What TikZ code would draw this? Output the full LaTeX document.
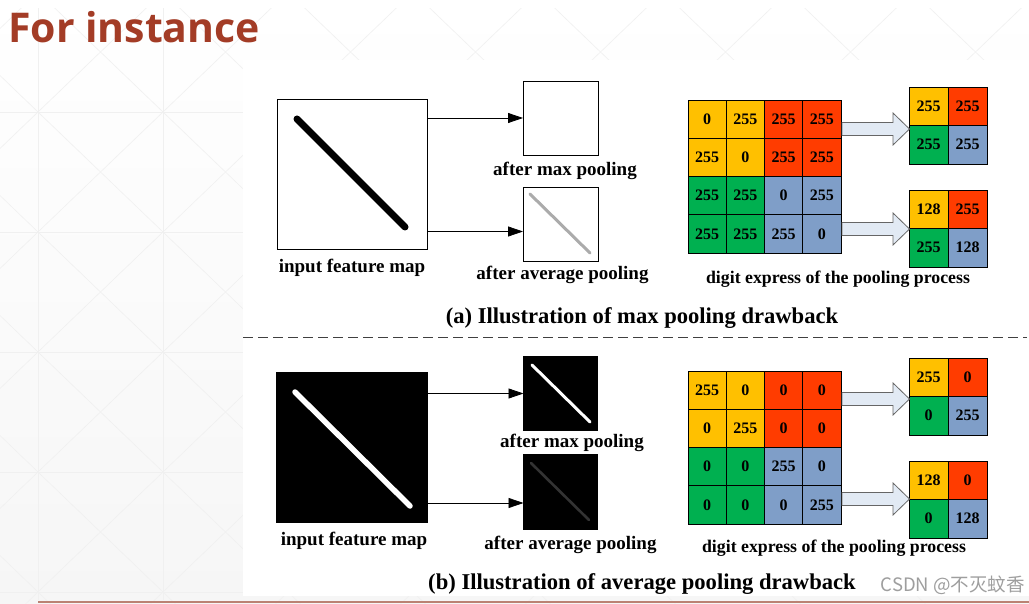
\documentclass[tikz,border=0pt]{standalone}
\usepackage{fontspec}
\setmainfont{Liberation Serif}
\newfontfamily\titlefont{Open Sans}
\newfontfamily\cjkfont{Noto Sans CJK SC}
\usetikzlibrary{arrows.meta,calc}
\definecolor{titlered}{RGB}{163,60,38}
\definecolor{cy}{RGB}{255,192,0}
\definecolor{cr}{RGB}{255,60,0}
\definecolor{cg}{RGB}{0,176,80}
\definecolor{cb}{RGB}{127,158,200}
\definecolor{arrfill}{RGB}{226,234,244}
\definecolor{bgline}{RGB}{240,240,240}
\definecolor{bgbottom}{RGB}{246,246,246}
\definecolor{footline}{RGB}{187,130,115}
\tikzset{
  fmap/.style={draw=black, line width=0.9pt, inner sep=0pt, outer sep=0pt},
  lbl/.style={font=\fontsize{19}{21}\selectfont\bfseries, inner sep=0pt},
  dlbl/.style={font=\fontsize{17.8}{20}\selectfont\bfseries, inner sep=0pt},
  captext/.style={font=\fontsize{22.6}{25}\selectfont\bfseries, inner sep=0pt},
  cellbox/.style={draw=black, line width=0.7pt, minimum width=38.25pt, minimum height=38.25pt, inner sep=0pt, outer sep=0pt, font=\fontsize{16}{16}\selectfont\bfseries},
  ocell/.style={draw=black, line width=0.7pt, minimum width=39pt, minimum height=38.5pt, inner sep=0pt, outer sep=0pt, font=\fontsize{16}{16}\selectfont\bfseries},
  arr/.style={-{Triangle[length=15pt,width=10pt]}, line width=0.8pt},
  blk/.style={draw=gray!80!black, line width=0.8pt, fill=arrfill},
}
\begin{document}
\begin{tikzpicture}[x=1pt,y=-1pt]
\useasboundingbox (0,0) rectangle (1029,604);
\shade[top color=white, bottom color=bgbottom] (0,0) rectangle (1029,604);
% faint background pattern
\begin{scope}[draw=bgline, line width=0.6pt]
  \foreach \xx in {38,163} \draw (\xx,0) -- (\xx,600);
  \foreach \yy in {112,232,352,472,592} \draw (0,\yy) -- (243,\yy);
  \foreach \k in {-4,...,8} {
    \draw (-87+125*\k,-8) -- ++(700,672);
    \draw (163+125*\k,-8) -- ++(-700,672);
  }
\end{scope}
\fill[white] (243,60) rectangle (1029,596);
\fill[white] (0,0) rectangle (1029,8);
% title
\node[anchor=west, inner sep=0pt, text=titlered, font=\titlefont\fontsize{41}{42}\selectfont\bfseries] (title) at (8,27) {For instance};

% ===== (a) =====
\node[fmap, minimum width=150pt, minimum height=150pt] (inA) at (352,174) {};
\draw[line width=7pt, line cap=round] (297,119) -- (405,227);
\node[lbl] (inAl) at (352,268) {input feature map};
\node[fmap, minimum width=75pt, minimum height=74pt] (maxA) at (560.5,118) {};
\node[lbl] (maxAl) at (565,171) {after max pooling};
\node[fmap, minimum width=75pt, minimum height=74pt] (avgA) at (560.5,224) {};
\draw[line width=3pt, black!33, line cap=round] (530,194) -- (590,253);
\node[lbl] (avgAl) at (562.5,275) {after average pooling};
\draw[arr] (inA.east |- maxA.west) -- (maxA.west);
\draw[arr] (inA.east |- 0,231.5) -- (avgA.west |- 0,231.5);

% grid a
\foreach \r/\c/\v/\col in {
 1/1/0/cy,1/2/255/cy,1/3/255/cr,1/4/255/cr,
 2/1/255/cy,2/2/0/cy,2/3/255/cr,2/4/255/cr,
 3/1/255/cg,3/2/255/cg,3/3/0/cb,3/4/255/cb,
 4/1/255/cg,4/2/255/cg,4/3/255/cb,4/4/0/cb}
 \node[cellbox, fill=\col] (ga-\r-\c) at ({688+38.25*(\c-0.5)},{100+38.25*(\r-0.5)}) {\v};
\foreach \r/\c/\v/\col in {1/1/255/cy,1/2/255/cr,2/1/255/cg,2/2/255/cb}
 \node[ocell, fill=\col] (oa-\r-\c) at ({909+39*(\c-0.5)},{87+38.5*(\r-0.5)}) {\v};
\foreach \r/\c/\v/\col in {1/1/128/cy,1/2/255/cr,2/1/255/cg,2/2/128/cb}
 \node[ocell, fill=\col] (pa-\r-\c) at ({909+39*(\c-0.5)},{190+38.5*(\r-0.5)}) {\v};
\node[dlbl] (digA) at (838,279) {digit express of the pooling process};
\draw[blk] (842,122.5) -- (893,122.5) -- (893,113) -- (909.5,129) -- (893,145) -- (893,135.5) -- (842,135.5) -- cycle;
\draw[blk] (842,222.5) -- (893,222.5) -- (893,213) -- (909.5,229) -- (893,245) -- (893,235.5) -- (842,235.5) -- cycle;
\node[captext] (capA) at (642,318) {(a) Illustration of max pooling drawback};

% separator
\draw[line width=1.3pt, dash pattern=on 10pt off 5pt, black!75] (243,337.5) -- (1027,337.5);

% ===== (b) =====
\node[fmap, fill=black, minimum width=151pt, minimum height=150pt] (inB) at (352,447.5) {};
\draw[line width=5.5pt, white, line cap=round] (295,392) -- (410,506);
\node[lbl] (inBl) at (354,541) {input feature map};
\node[fmap, fill=black, minimum width=74pt, minimum height=74pt] (maxB) at (560.5,393.5) {};
\draw[line width=3pt, white, line cap=round] (532,365) -- (590,422);
\node[lbl] (maxBl) at (572,443) {after max pooling};
\node[fmap, fill=black, minimum width=74pt, minimum height=75pt] (avgB) at (560.5,491.5) {};
\draw[line width=2.6pt, black!80!white, line cap=round] (531,463) -- (589,520);
\node[lbl] (avgBl) at (570.5,545) {after average pooling};
\draw[arr] (inB.east |- maxB.west) -- (maxB.west);
\draw[arr] (inB.east |- 0,503) -- (avgB.west |- 0,503);

\foreach \r/\c/\v/\col in {
 1/1/255/cy,1/2/0/cy,1/3/0/cr,1/4/0/cr,
 2/1/0/cy,2/2/255/cy,2/3/0/cr,2/4/0/cr,
 3/1/0/cg,3/2/0/cg,3/3/255/cb,3/4/0/cb,
 4/1/0/cg,4/2/0/cg,4/3/0/cb,4/4/255/cb}
 \node[cellbox, fill=\col] (gb-\r-\c) at ({688+38.25*(\c-0.5)},{371+38.25*(\r-0.5)}) {\v};
\foreach \r/\c/\v/\col in {1/1/255/cy,1/2/0/cr,2/1/0/cg,2/2/255/cb}
 \node[ocell, fill=\col] (ob-\r-\c) at ({909+39*(\c-0.5)},{358+38.5*(\r-0.5)}) {\v};
\foreach \r/\c/\v/\col in {1/1/128/cy,1/2/0/cr,2/1/0/cg,2/2/128/cb}
 \node[ocell, fill=\col] (pb-\r-\c) at ({909+39*(\c-0.5)},{461+38.5*(\r-0.5)}) {\v};
\node[dlbl] (digB) at (834,548) {digit express of the pooling process};
\draw[blk] (842,392.5) -- (893,392.5) -- (893,383) -- (909.5,399) -- (893,415) -- (893,405.5) -- (842,405.5) -- cycle;
\draw[blk] (842,492.5) -- (893,492.5) -- (893,483) -- (909.5,499) -- (893,515) -- (893,505.5) -- (842,505.5) -- cycle;
\node[captext] (capB) at (642,584) {(b) Illustration of average pooling drawback};

\node[anchor=east, inner sep=0pt, text=black!38, font=\cjkfont\fontsize{18.5}{18.5}\selectfont] (wm) at (1025,585) {CSDN @不灭蚊香};
\draw[footline, line width=2pt] (38,601.5) -- (1029,601.5);
\end{tikzpicture}
\end{document}
